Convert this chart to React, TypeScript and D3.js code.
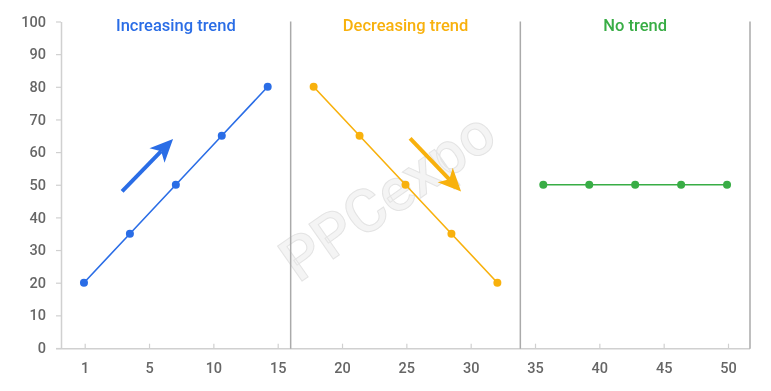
import type React from "react"
import { useEffect, useRef } from "react"
import * as d3 from "d3"

const xTickLabels = ["1", "5", "10", "15", "20", "25", "30", "35", "40", "45", "50"]
const yTickValues = [0, 10, 20, 30, 40, 50, 60, 70, 80, 90, 100]
const panelTitles = ["Increasing trend", "Decreasing trend", "No trend"]
const panelColors = ["#2a6de6", "#f8b10d", "#38ad45"]
const increasing = [20, 35, 50, 65, 80]
const decreasing = [80, 65, 50, 35, 20]
const noTrend = [50, 50, 50, 50, 50]
// arrows in data space: point index / value at tail and tip
const arrows = [
  { panel: 0, x1: 0.83, y1: 48, x2: 1.94, y2: 64 },
  { panel: 1, x1: 7.1, y1: 64.2, x2: 8.21, y2: 47.9 },
]

const App: React.FC = () => {
  const svgRef = useRef<SVGSVGElement | null>(null)

  useEffect(() => {
    const width = 771
    const height = 391
    const margin = { top: 21.5, right: 21, bottom: 43, left: 61 }
    const font = "Roboto, 'Noto Sans', sans-serif"

    const svg = d3.select(svgRef.current).attr("width", width).attr("height", height)
    svg.selectAll("*").remove()

    const series = [increasing, decreasing, noTrend]
    const nPoints = d3.sum(series, (s) => s.length)

    const x = d3
      .scaleBand<number>()
      .domain(d3.range(nPoints))
      .range([margin.left, width - margin.right])
      .padding(0)
    const cx = (i: number) => (x(Math.floor(i)) ?? 0) + x.bandwidth() / 2 + (i % 1) * x.bandwidth()

    const xTicks = d3
      .scalePoint<string>()
      .domain(xTickLabels)
      .range([84.7, 728])

    const y = d3
      .scaleLinear()
      .domain([0, 100])
      .range([height - margin.bottom, margin.top])

    const axisColor = "#d0d0d0"
    const bottom = y(0) + 0.7

    // Watermark
    svg
      .append("text")
      .attr("transform", `translate(390,200) rotate(-35)`)
      .attr("text-anchor", "middle")
      .attr("dominant-baseline", "middle")
      .attr("font-family", font)
      .attr("font-size", 60)
      .attr("font-weight", 500)
      .attr("fill", "#f4f4f4")
      .attr("stroke", "#e4e4e4")
      .attr("stroke-width", 1)
      .text("PPCexpo")

    // Y axis
    const yAxis = svg
      .append("g")
      .attr("transform", `translate(${margin.left},0)`)
      .call(d3.axisLeft(y).tickValues(yTickValues).tickSize(5).tickPadding(10).tickSizeOuter(0))
    yAxis.select(".domain").attr("stroke", axisColor).attr("stroke-width", 1.5)
    yAxis.selectAll(".tick line").attr("stroke", axisColor).attr("stroke-width", 1.2)
    yAxis
      .selectAll(".tick text")
      .attr("fill", "#666")
      .attr("font-size", 14.5)
      .attr("font-weight", 500)
      .attr("font-family", font)

    // X axis
    const xAxis = svg
      .append("g")
      .attr("transform", `translate(0,${bottom})`)
      .call(d3.axisBottom(xTicks).tickSize(-5).tickPadding(14).tickSizeOuter(0))
    xAxis.select(".domain").remove()
    xAxis
      .append("line")
      .attr("x1", margin.left - 5)
      .attr("x2", width - margin.right)
      .attr("stroke", axisColor)
      .attr("stroke-width", 1.5)
    xAxis.selectAll(".tick line").attr("stroke", axisColor).attr("stroke-width", 1.2)
    xAxis
      .selectAll(".tick text")
      .attr("fill", "#666")
      .attr("font-size", 14.5)
      .attr("font-weight", 500)
      .attr("font-family", font)

    // Panel dividers, titles, lines and dots
    let start = 0
    series.forEach((s, p) => {
      const end = start + s.length
      const left = x(start) ?? 0
      const right = end < nPoints ? x(end) ?? 0 : width - margin.right
      svg
        .append("line")
        .attr("x1", right)
        .attr("x2", right)
        .attr("y1", y(100))
        .attr("y2", bottom)
        .attr("stroke", "#aaa")
        .attr("stroke-width", 1.5)
      svg
        .append("text")
        .attr("x", (left + right) / 2)
        .attr("y", 31)
        .attr("text-anchor", "middle")
        .attr("font-family", font)
        .attr("font-size", 16.5)
        .attr("font-weight", 500)
        .attr("fill", panelColors[p])
        .text(panelTitles[p])

      const pts = s.map((v, i) => ({ i: start + i, v }))
      const line = d3
        .line<{ i: number; v: number }>()
        .x((d) => cx(d.i))
        .y((d) => y(d.v))
      svg
        .append("path")
        .datum(pts)
        .attr("fill", "none")
        .attr("stroke", panelColors[p])
        .attr("stroke-width", 1.6)
        .attr("d", line)
      svg
        .selectAll(`.dot-${p}`)
        .data(pts)
        .enter()
        .append("circle")
        .attr("class", `dot-${p}`)
        .attr("cx", (d) => cx(d.i))
        .attr("cy", (d) => y(d.v))
        .attr("r", 4)
        .attr("fill", panelColors[p])
      start = end
    })

    // Trend arrows
    arrows.forEach((a) => {
      const color = panelColors[a.panel]
      const x1 = cx(a.x1)
      const y1 = y(a.y1)
      const x2 = cx(a.x2)
      const y2 = y(a.y2)
      const ang = Math.atan2(y2 - y1, x2 - x1)
      const headLen = 23
      const headW = 10.5
      const notch = 6
      const bx = x2 - headLen * Math.cos(ang)
      const by = y2 - headLen * Math.sin(ang)
      svg
        .append("line")
        .attr("x1", x1)
        .attr("y1", y1)
        .attr("x2", bx + notch * Math.cos(ang))
        .attr("y2", by + notch * Math.sin(ang))
        .attr("stroke", color)
        .attr("stroke-width", 4)
      const nx = -Math.sin(ang)
      const ny = Math.cos(ang)
      const pts: [number, number][] = [
        [x2, y2],
        [bx + nx * headW, by + ny * headW],
        [bx + notch * Math.cos(ang), by + notch * Math.sin(ang)],
        [bx - nx * headW, by - ny * headW],
      ]
      svg
        .append("path")
        .attr("d", (d3.line()(pts) ?? "") + "Z")
        .attr("fill", color)
    })
  }, [])

  return (
    <div style={{ position: "fixed", left: 0, top: 0 }}>
      <svg ref={svgRef}></svg>
    </div>
  )
}

export default App
